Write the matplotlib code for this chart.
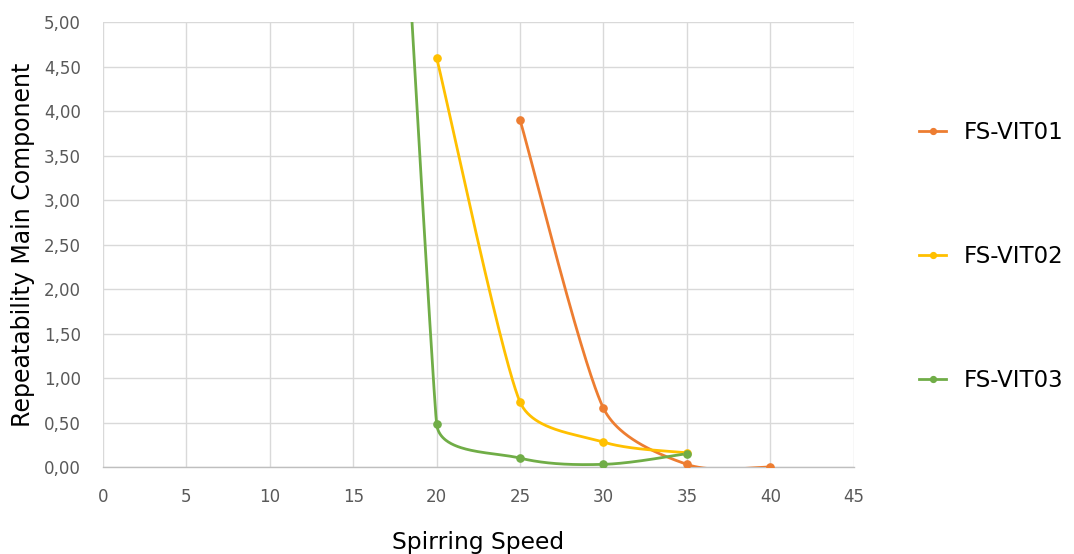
import numpy as np
import matplotlib
matplotlib.use("Agg")
import matplotlib.pyplot as plt
from matplotlib.ticker import FuncFormatter, MultipleLocator

# Data
series_names = ["FS-VIT01", "FS-VIT02", "FS-VIT03"]
x_vit01 = [25, 30, 35, 40]
y_vit01 = [3.90, 0.66, 0.03, 0.00]
x_vit02 = [20, 25, 30, 35]
y_vit02 = [4.60, 0.73, 0.28, 0.16]
x_vit03 = [15, 20, 25, 30, 35]
y_vit03 = [16.5, 0.48, 0.10, 0.03, 0.15]
colors = ["#ED7D31", "#FFC000", "#70AD47"]

XMAX, YMAX = 45, 5

def smooth(xs, ys, sx=16.69, sy=89.0, n=80):
    """Excel-like smoothed line: Catmull-Rom Bezier segments (tension 1/6)
    with handle lengths limited by the adjacent segment lengths."""
    P = np.column_stack([np.array(xs, float) * sx, np.array(ys, float) * sy])
    m = len(P)
    seglen = [np.hypot(*(P[i + 1] - P[i])) for i in range(m - 1)]

    def handle(i, toward_next):
        prev = P[i - 1] if i > 0 else P[i]
        nxt = P[i + 1] if i + 1 < m else P[i]
        h = (nxt - prev) / 6.0
        L = np.hypot(*h)
        if L == 0:
            return h
        if toward_next:
            near = seglen[i]
            far = seglen[i - 1] if i > 0 else np.inf
        else:
            near = seglen[i - 1]
            far = seglen[i] if i < m - 1 else np.inf
        lim = min(L, near / 3.0, far * 0.5)
        return h * lim / L

    out = []
    for i in range(m - 1):
        p1, p2 = P[i], P[i + 1]
        c1 = p1 + handle(i, True)
        c2 = p2 - handle(i + 1, False)
        t = np.linspace(0, 1, n)[:, None]
        seg = ((1 - t) ** 3) * p1 + 3 * ((1 - t) ** 2) * t * c1 + 3 * (1 - t) * t ** 2 * c2 + t ** 3 * p2
        out.append(seg if i == 0 else seg[1:])
    s = np.vstack(out)
    return s[:, 0] / sx, s[:, 1] / sy

fig = plt.figure(figsize=(10.74, 5.54), dpi=100)
ax = fig.add_axes([0.0959, 0.157, 0.699, 0.803])

handles = []
for name, xs, ys, c in zip(series_names,
                           [x_vit01, x_vit02, x_vit03],
                           [y_vit01, y_vit02, y_vit03], colors):
    cx, cy = smooth(xs, ys)
    ax.plot(cx, cy, color=c, lw=2.0, zorder=3, solid_capstyle="round")
    ax.plot(xs, ys, 'o', color=c, ms=5.2, zorder=4)
    h, = ax.plot([], [], '-o', color=c, lw=2.0, ms=4.2, label=name)
    handles.append(h)

ax.set_xlim(0, XMAX)
ax.set_ylim(0, YMAX)
ax.xaxis.set_major_locator(MultipleLocator(5))
ax.yaxis.set_major_locator(MultipleLocator(0.5))
ax.yaxis.set_major_formatter(FuncFormatter(lambda v, p: f"{v:.2f}".replace(".", ",")))
ax.grid(True, color="#d9d9d9", lw=1.0, zorder=0)
ax.set_axisbelow(True)
for s in ["top", "right", "left"]:
    ax.spines[s].set_visible(False)
ax.spines["bottom"].set_color("#bfbfbf")
ax.spines["bottom"].set_linewidth(1.0)
ax.tick_params(axis="both", length=0, labelsize=12, labelcolor="#595959")
ax.tick_params(axis="y", pad=16)
ax.tick_params(axis="x", pad=15)

ax.set_xlabel("Spirring Speed", fontsize=16.8, labelpad=18, color="black")
ax.set_ylabel("Repeatability Main Component", fontsize=17, labelpad=6, color="black")

fig.legend(handles=handles, loc="center left", bbox_to_anchor=(0.856, 0.537),
           frameon=False, fontsize=16.5, labelspacing=4.4, handlelength=1.15,
           handletextpad=0.8, borderpad=0, borderaxespad=0)

fig.savefig("out.png", dpi=100)
